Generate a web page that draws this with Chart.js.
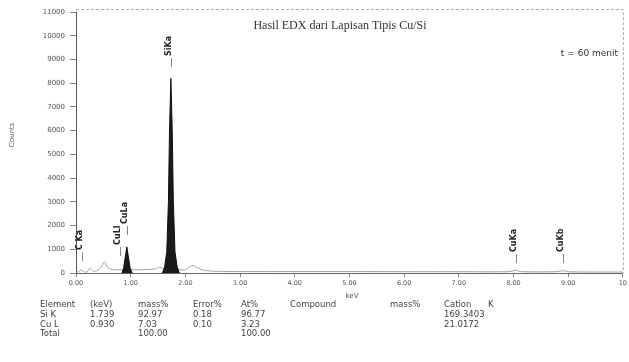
<!DOCTYPE html>
<html>
<head>
<meta charset="utf-8">
<script src="https://cdn.jsdelivr.net/npm/chart.js@4.4.1/dist/chart.umd.min.js"></script>
<style>
  html, body { margin: 0; padding: 0; background: #fff; }
  #wrap { position: relative; width: 629px; height: 362px; }
  #spectrum { position: absolute; left: 0; top: 0; }
  #tbl { position: absolute; left: 0; top: 0; font-family: "DejaVu Sans", sans-serif; font-size: 8.5px; color: #444; }
  #tbl span { position: absolute; white-space: nowrap; line-height: 10px; }
</style>
</head>
<body>
<div id="wrap">
  <canvas id="spectrum" width="629" height="362"></canvas>
  <div id="tbl"></div>
</div>
<script>
// continuum (grey trace), keV / counts
const bgEnergy = [0.00, 0.05, 0.10, 0.15, 0.20, 0.26, 0.32, 0.40, 0.46, 0.52, 0.58, 0.66, 0.75, 0.84, 1.04, 1.15, 1.30, 1.45, 1.53, 1.58,
  1.89, 1.98, 2.06, 2.14, 2.22, 2.35, 2.60, 3.00, 4.00, 5.00, 6.00, 7.00, 7.90, 8.04, 8.15, 8.80, 8.90, 9.00, 10.00];
const bgCounts = [0, 60, 120, 50, 40, 200, 70, 120, 250, 470, 240, 150, 130, 140, 140, 130, 150, 170, 250, 200,
  150, 120, 220, 320, 220, 110, 70, 60, 60, 60, 55, 55, 55, 110, 55, 55, 100, 50, 40];

// Si K peak (filled)
const siEnergy = [1.58, 1.62, 1.66, 1.69, 1.71, 1.735, 1.76, 1.78, 1.81, 1.85, 1.89];
const siCounts = [0, 250, 900, 3000, 6000, 8200, 6000, 3000, 900, 250, 0];

// Cu L peak (filled)
const cuEnergy = [0.84, 0.87, 0.90, 0.93, 0.96, 0.99, 1.03];
const cuCounts = [0, 200, 650, 1100, 650, 200, 0];

// peak markers
const lineNames = ['C Ka', 'CuLl', 'CuLa', 'SiKa', 'CuKa', 'CuKb'];
const lineEnergy = [0.11, 0.811, 0.930, 1.739, 8.040, 8.904];
const lineLevel = [880, 1100, 1980, 9060, 800, 800];

// axes
const xTicks = [0, 1, 2, 3, 4, 5, 6, 7, 8, 9, 10];
const yMax = 11000;

// quantitative result table
const tableHead = ['Element', '(keV)', 'mass%', 'Error%', 'At%', 'Compound', 'mass%', 'Cation', 'K'];
const tableRows = [
  ['Si K', '1.739', '92.97', '0.18', '96.77', '', '', '169.3403', ''],
  ['Cu L', '0.930', '7.03', '0.10', '3.23', '', '', '21.0172', ''],
  ['Total', '', '100.00', '', '100.00', '', '', '', '']
];
const colX = [40, 90, 138, 193, 241, 290, 390, 444, 488];

function pts(xs, ys) {
  return xs.map((x, i) => ({ x: x, y: ys[i] }));
}

const decor = {
  id: 'decor',
  afterDatasetsDraw(chart) {
    const { ctx, chartArea: a, scales: { x, y } } = chart;
    ctx.save();
    // dashed frame top / right
    ctx.strokeStyle = '#aaa';
    ctx.lineWidth = 1;
    ctx.setLineDash([3, 2]);
    ctx.beginPath();
    ctx.moveTo(a.left, a.top - 2.5);
    ctx.lineTo(a.right + 0.5, a.top - 2.5);
    ctx.lineTo(a.right + 0.5, a.bottom);
    ctx.stroke();
    ctx.setLineDash([]);

    // peak markers
    lineNames.forEach((name, i) => {
      const px = Math.round(x.getPixelForValue(lineEnergy[i])) + 0.5;
      const py = y.getPixelForValue(lineLevel[i]);
      ctx.strokeStyle = '#888';
      ctx.beginPath();
      ctx.moveTo(px, py);
      ctx.lineTo(px, py + 9);
      ctx.stroke();
      ctx.save();
      ctx.translate(px - 3, py - 2);
      ctx.rotate(-Math.PI / 2);
      ctx.fillStyle = '#222';
      ctx.font = 'bold 8px "DejaVu Sans", sans-serif';
      ctx.textBaseline = 'middle';
      ctx.textAlign = 'left';
      ctx.fillText(name, 0, 0);
      ctx.restore();
    });

    // title and time label
    ctx.fillStyle = '#333';
    ctx.font = '12px "Liberation Serif", serif';
    ctx.textAlign = 'center';
    ctx.textBaseline = 'middle';
    ctx.fillText('Hasil EDX dari Lapisan Tipis Cu/Si', 340, 26);
    ctx.font = '9px "DejaVu Sans", sans-serif';
    ctx.textAlign = 'right';
    ctx.fillText('t = 60 menit', 618, 54);

    // axis titles
    ctx.fillStyle = '#555';
    ctx.font = '7px "DejaVu Sans", sans-serif';
    ctx.textAlign = 'center';
    ctx.fillText('keV', 352, 296);
    ctx.save();
    ctx.translate(12, 135);
    ctx.rotate(-Math.PI / 2);
    ctx.fillText('Counts', 0, 0);
    ctx.restore();
    ctx.restore();
  }
};

new Chart(document.getElementById('spectrum'), {
  type: 'line',
  data: {
    datasets: [
      {
        data: pts(siEnergy, siCounts),
        borderColor: '#111',
        backgroundColor: '#1a1a1a',
        borderWidth: 1,
        fill: 'origin',
        pointRadius: 0,
        tension: 0
      },
      {
        data: pts(cuEnergy, cuCounts),
        borderColor: '#111',
        backgroundColor: '#1a1a1a',
        borderWidth: 1,
        fill: 'origin',
        pointRadius: 0,
        tension: 0
      },
      {
        data: pts(bgEnergy, bgCounts),
        borderColor: '#a0a0a0',
        borderWidth: 1,
        fill: false,
        pointRadius: 0,
        tension: 0.3
      }
    ]
  },
  options: {
    responsive: false,
    animation: false,
    layout: { padding: { top: 12, right: 5, bottom: 69, left: 0 } },
    plugins: { legend: { display: false }, tooltip: { enabled: false } },
    scales: {
      x: {
        type: 'linear',
        min: 0,
        max: 10,
        afterBuildTicks: (s) => { s.ticks = xTicks.map(v => ({ value: v })); },
        afterFit: (s) => { s.height = 20; },
        ticks: {
          maxRotation: 0,
          autoSkip: false,
          color: '#555',
          font: { size: 6.5, family: '"DejaVu Sans", sans-serif' },
          padding: 2,
          callback: (v) => v === 10 ? '10' : v.toFixed(2)
        },
        grid: { drawOnChartArea: false, tickLength: 4, color: '#888' },
        border: { color: '#666' }
      },
      y: {
        min: 0,
        max: yMax,
        afterFit: (s) => { s.width = 76; },
        ticks: {
          stepSize: 1000,
          color: '#555',
          font: { size: 7, family: '"DejaVu Sans", sans-serif' },
          padding: 5,
          callback: (v) => String(v)
        },
        grid: { drawOnChartArea: false, tickLength: 6, color: '#888' },
        border: { color: '#555' }
      }
    }
  },
  plugins: [decor]
});

// result table below the spectrum
const tbl = document.getElementById('tbl');
const rowY = [299, 309, 318.5, 328];
[tableHead].concat(tableRows).forEach((row, r) => {
  row.forEach((txt, c) => {
    if (!txt) return;
    const s = document.createElement('span');
    s.textContent = txt;
    s.style.left = colX[c] + 'px';
    s.style.top = rowY[r] + 'px';
    tbl.appendChild(s);
  });
});
</script>
</body>
</html>
